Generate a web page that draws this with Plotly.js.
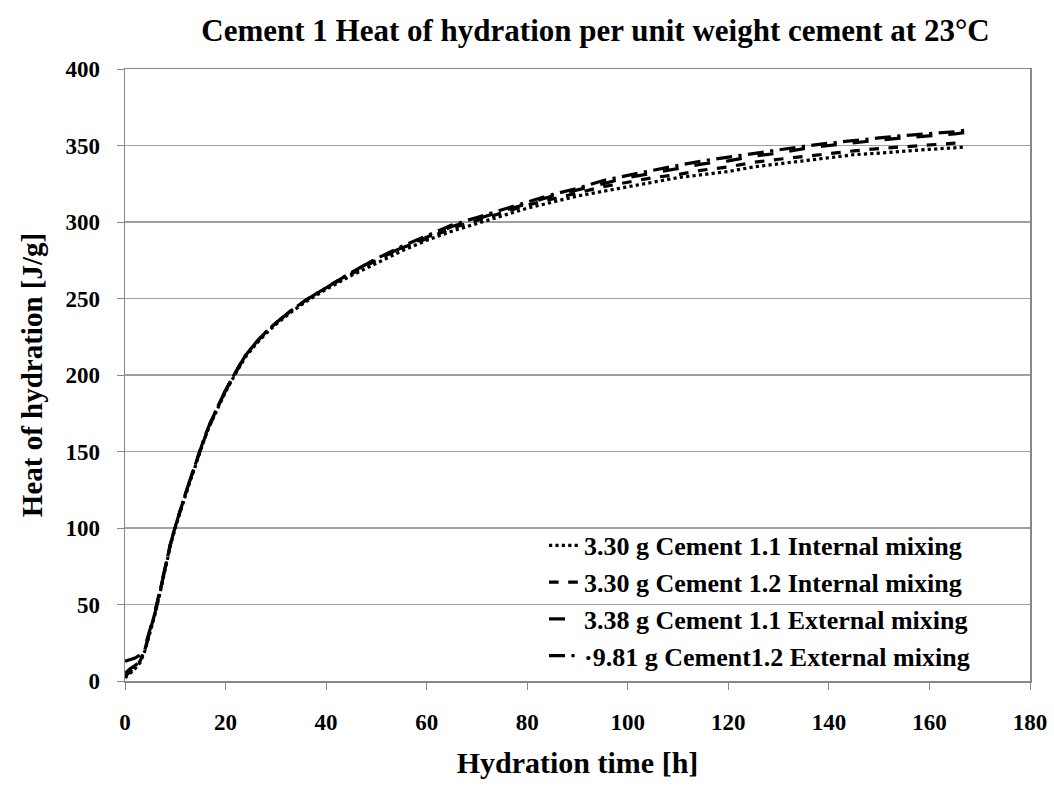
<!DOCTYPE html>
<html>
<head>
<meta charset="utf-8">
<script src="https://cdn.plot.ly/plotly-3.0.1.min.js"></script>
<style>html,body{margin:0;padding:0;background:#fff;}#chart{width:1054px;height:787px;}</style>
</head>
<body>
<div id="chart"></div>
<script>
var hours = [0,1,2,3,4,5,6,7,8,9,10,11,12,13,14,15,16,17,18,20,22,24,26,28,30,33,36,40,45,50,55,60,65,70,75,80,85,90,95,100,105,110,115,120,125,130,135,140,145,150,155,160,165,167];
var int11 = [2,5,8,12,20,32,44,58,74,88,100,111,121,131,141,151,160,168,175,189,201,212,220,227,233,241,248,256,265,273,281,288,294,299,304,309,313,317,320,323,326,329,331,333,336,338,340,342,344,345,346.5,347.5,348.5,349];
var int12 = [3,6,9,13,21,33,45,59,75,89,101,112,122,132,142,151,160,168,176,190,202,213,221,228,234,242,249,257,266,275,283,289,296,301,306,311,315,319,323,326,329,331,334,336,339,341,343,345,346.5,348,349,350,351.5,352];
var ext11 = [13,14,15,17,23,34,46,60,75,89,101,112,122,132,142,152,161,169,176,190,202,213,221,228,234,242,249,257,267,276,283,290,297,302,307,312,317,321,325,329,332,335,338,340,343,345,348,350,352,353.5,355,356,357.5,358.5];
var ext12 = [5,8,10,13,21,33,45,59,75,89,101,112,122,132,142,152,161,169,176,190,202,213,221,228,234,242,249,257,267,276,284,291,298,303,308,313,318,322,327,330.5,334,337,340,342.5,345,347,349.5,351.5,353.5,355,356.5,357.5,359,360];
var seriesNames = ["3.30 g Cement 1.1 Internal mixing","3.30 g Cement 1.2 Internal mixing","3.38 g Cement 1.1 External mixing","\u00b79.81 g Cement1.2 External mixing"];
var seriesValues = [int11, int12, ext11, ext12];
var dashes = ["dot","dash","longdash","longdashdot"];
var xTicks = [0,20,40,60,80,100,120,140,160,180];
var yTicks = [0,50,100,150,200,250,300,350,400];
var titleText = "Cement 1 Heat of hydration per unit weight cement at 23\u00b0C";
var xTitle = "Hydration time [h]";
var yTitle = "Heat of hydration [J/g]";

function b(s){ return "<b>" + s + "</b>"; }
var serif = "Liberation Serif";
var traces = seriesValues.map(function(v,i){
  return {x: hours, y: v, type: "scatter", mode: "lines", name: b(seriesNames[i]),
    line: {color: "#000", width: 3.2, dash: dashes[i]}};
});

var layout = {
  width: 1054, height: 787,
  margin: {l:125, r:24, t:69, b:106},
  paper_bgcolor: "#fff", plot_bgcolor: "#fff",
  font: {family: serif, color: "#000", size: 22},
  title: {text: b(titleText),
    font: {family: serif, size: 31, color: "#000"},
    xref: "container", yref: "container", x: 0.565, xanchor: "center", y: 0.962, yanchor: "middle"},
  xaxis: {range: [0,180], tickvals: xTicks, ticktext: xTicks.map(function(t){return b(t);}),
    ticks: "outside", ticklen: 7, tickcolor: "#888",
    showgrid: false, zeroline: false, showline: true, mirror: true, linecolor: "#888", linewidth: 1.5,
    ticklabelstandoff: 13,
    tickfont: {family: serif, size: 23, color: "#000"},
    title: {text: b(xTitle), font: {family: serif, size: 30, color: "#000"}, standoff: 18}},
  yaxis: {range: [0,400], tickvals: yTicks, ticktext: yTicks.map(function(t){return b(t);}),
    ticks: "outside", ticklen: 7, tickcolor: "#888",
    showgrid: true, gridcolor: "#a0a0a0", gridwidth: 1.2, zeroline: false,
    showline: true, mirror: true, linecolor: "#888", linewidth: 1.5,
    ticklabelstandoff: 12,
    tickfont: {family: serif, size: 23, color: "#000"},
    title: {text: b(yTitle), font: {family: serif, size: 29, color: "#000"}, standoff: 14}},
  legend: {x: 0.463, y: 0.26, xanchor: "left", yanchor: "top", bgcolor: "rgba(0,0,0,0)",
    font: {family: serif, size: 26, color: "#000"}},
  showlegend: true
};
Plotly.newPlot("chart", traces, layout, {staticPlot: true, displayModeBar: false});
</script>
</body>
</html>
